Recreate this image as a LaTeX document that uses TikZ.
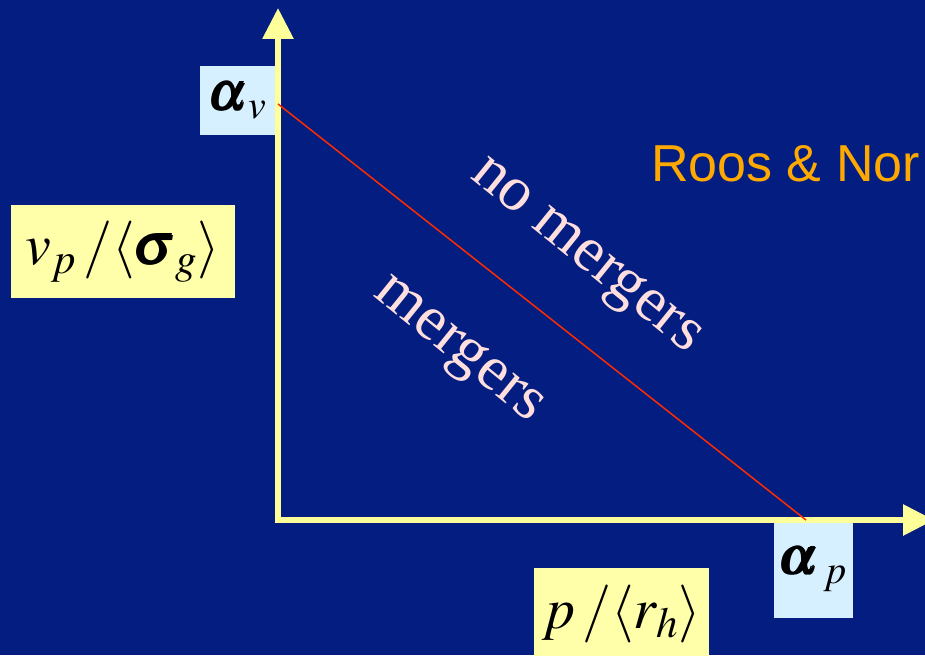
\RequirePackage{fix-cm}
\documentclass[tikz,border=0pt]{standalone}
\usepackage{amsmath}
\usepackage{mathptmx}
\usepackage{fontspec}
\setmainfont{Liberation Serif}
\newfontfamily\timesfont{Liberation Serif}
\newfontfamily\arialfont{Liberation Sans}
\usetikzlibrary{arrows.meta}
\definecolor{bgnavy}{HTML}{031E80}
\definecolor{axisyellow}{HTML}{FFFF99}
\definecolor{boxyellow}{HTML}{FFFFAA}
\definecolor{boxblue}{HTML}{D6F0FF}
\definecolor{pinktext}{HTML}{FFDEDE}
\definecolor{orangetext}{HTML}{FFA800}
\definecolor{linered}{HTML}{FF2A00}
\begin{document}
\begin{tikzpicture}[x=1pt,y=-1pt,
  axisline/.style={draw=axisyellow,line width=6pt,-{Triangle[length=31pt,width=30pt]}},
  ybox/.style={fill=boxyellow,inner sep=0pt,text=black,font=\fontsize{58}{64}\selectfont},
  bbox/.style={fill=boxblue,inner sep=0pt,text=black,font=\fontsize{54}{60}\selectfont},
  regionlabel/.style={text=pinktext,font=\timesfont\fontsize{63}{70}\selectfont,rotate=-39,inner sep=0pt}]
\fill[bgnavy] (0,0) rectangle (925,655);
\useasboundingbox (0,0) rectangle (925,655);
\begin{scope}
\clip (0,0) rectangle (925,655);
% label boxes
\node[bbox,minimum width=76pt,minimum height=69pt] (av) at (238,100.5) {$\pmb{\alpha}_{v}$};
\node[ybox,minimum width=224pt,minimum height=93pt] (vp) at (123,251.5) {$v_{p}\,/\langle\pmb{\sigma}_{g}\rangle$};
\node[ybox,minimum width=175pt,minimum height=92pt] (pr) at (621.5,614) {$p\,/\langle r_{h}\rangle$};
\node[bbox,minimum width=79pt,minimum height=98pt] (ap) at (813.5,569) {$\pmb{\alpha}_{\,p}$};
% axes
\coordinate (origin) at (278,520);
\coordinate (ytop) at (278,8);
\coordinate (xend) at (934,520);
\draw[axisline] ([yshift=3pt]origin) -- (ytop);
\draw[axisline] ([xshift=-3pt]origin) -- (xend);
% dividing line
\coordinate (lv) at (278,104);
\coordinate (lp) at (806,520);
\draw[linered,line width=1.5pt] (lv) -- (lp);
% region labels
\node[regionlabel] (nomerg) at (584,258) {no mergers};
\node[regionlabel] (merg) at (457,352) {mergers};
% reference
\node[anchor=west,text=orangetext,font=\arialfont\fontsize{52}{60}\selectfont,inner sep=0pt] (roos) at (651,164) {Roos \& Nor};
\end{scope}
\end{tikzpicture}
\end{document}
